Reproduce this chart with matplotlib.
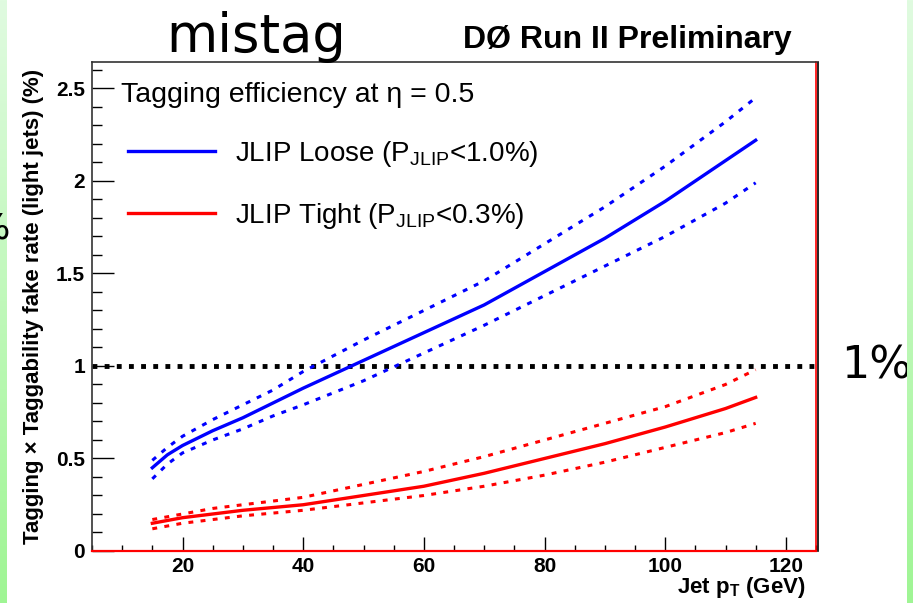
import numpy as np
import matplotlib
matplotlib.use("Agg")
import matplotlib.pyplot as plt
from matplotlib.colors import LinearSegmentedColormap
from matplotlib.ticker import MultipleLocator, FuncFormatter

plt.rcParams["font.family"] = ["Liberation Sans", "DejaVu Sans"]
plt.rcParams["mathtext.fontset"] = "custom"
plt.rcParams["mathtext.rm"] = "Liberation Sans"
plt.rcParams["mathtext.bf"] = "Liberation Sans:bold"

# jet pT (GeV) and fake rate (%) for the two JLIP operating points
pt = [15, 17.5, 20, 25, 30, 35, 40, 50, 60, 70, 80, 90, 100, 110, 115]
loose = [0.45, 0.52, 0.57, 0.65, 0.72, 0.80, 0.88, 1.03, 1.18, 1.33, 1.51, 1.69, 1.89, 2.11, 2.22]
loose_hi = [0.49, 0.56, 0.62, 0.71, 0.79, 0.87, 0.97, 1.14, 1.30, 1.46, 1.66, 1.86, 2.08, 2.32, 2.45]
loose_lo = [0.39, 0.47, 0.53, 0.60, 0.66, 0.73, 0.79, 0.92, 1.07, 1.22, 1.38, 1.54, 1.70, 1.88, 1.99]
tight = [0.15, 0.165, 0.18, 0.20, 0.22, 0.235, 0.25, 0.30, 0.35, 0.42, 0.50, 0.58, 0.67, 0.77, 0.83]
tight_hi = [0.17, 0.185, 0.20, 0.23, 0.25, 0.27, 0.29, 0.36, 0.43, 0.51, 0.60, 0.69, 0.78, 0.90, 0.98]
tight_lo = [0.12, 0.135, 0.15, 0.17, 0.19, 0.205, 0.22, 0.26, 0.30, 0.35, 0.41, 0.48, 0.56, 0.64, 0.69]
ref_level = 1.0

fig = plt.figure(figsize=(9.13, 6.03), dpi=100)
ax = fig.add_axes([92 / 913, 1 - 551 / 603, 724 / 913, 489 / 603])

dots = (0, (1.6, 2.4))
ax.plot(pt, loose_hi, color="#0000ff", lw=2.2, ls=dots)
ax.plot(pt, loose_lo, color="#0000ff", lw=2.2, ls=dots)
l1, = ax.plot(pt, loose, color="#0000ff", lw=2.4, label=r"JLIP Loose (P$_{\mathrm{JLIP}}$<1.0%)")
ax.plot(pt, tight_hi, color="#ff0000", lw=2.2, ls=dots)
ax.plot(pt, tight_lo, color="#ff0000", lw=2.2, ls=dots)
l2, = ax.plot(pt, tight, color="#ff0000", lw=2.4, label=r"JLIP Tight (P$_{\mathrm{JLIP}}$<0.3%)")

ax.axhline(ref_level, color="black", lw=3.5, ls=(0, (1, 1.5)), zorder=1)

ax.set_xlim(5, 125)
ax.set_ylim(0, 2.643)
ax.xaxis.set_major_locator(MultipleLocator(20))
ax.xaxis.set_minor_locator(MultipleLocator(5))
ax.yaxis.set_major_locator(MultipleLocator(0.5))
ax.yaxis.set_minor_locator(MultipleLocator(0.1))
ax.yaxis.set_major_formatter(FuncFormatter(lambda v, _: f"{v:g}"))
ax.tick_params(axis="x", which="major", direction="in", length=10, width=1, pad=4)
ax.tick_params(axis="x", which="minor", direction="in", length=4.5, width=1)
ax.tick_params(axis="y", which="major", direction="in", length=16, width=1, pad=5)
ax.tick_params(axis="y", which="minor", direction="in", length=7, width=1)
for lab in ax.get_xticklabels() + ax.get_yticklabels():
    lab.set_fontweight("bold")
    lab.set_fontsize(15)
ax.get_xticklabels()[0].set_visible(False)

for side in ("left", "top"):
    ax.spines[side].set_color("#333333")
    ax.spines[side].set_linewidth(1.2)
ax.spines["bottom"].set_color("#ff0000")
ax.spines["bottom"].set_linewidth(1.6)
ax.spines["right"].set_color("#ff0000")
ax.spines["right"].set_linewidth(1.2)
ax.plot([1.003, 1.003], [0, 1], transform=ax.transAxes, color="black", lw=1.2, clip_on=False)

ax.set_ylabel("Tagging \u00d7 Taggability fake rate (light jets) (%)", fontsize=16, fontweight="bold")
ax.yaxis.set_label_coords(-0.066, 0.5)
ax.set_xlabel(r"Jet p$_{\mathbf{T}}$ (GeV)", fontsize=16, fontweight="bold")
ax.xaxis.label.set_ha("right")
ax.xaxis.set_label_coords(0.985, -0.05)

ax.text(0.04, 0.9325, "Tagging efficiency at \u03b7 = 0.5", transform=ax.transAxes,
        fontsize=20.5, va="center", ha="left")
ax.legend(handles=[l1, l2], loc="upper left", bbox_to_anchor=(0.035, 0.866), frameon=False,
          fontsize=20, handlelength=3.1, handletextpad=0.72, labelspacing=1.16, borderaxespad=0)

fig.text(0.507, 0.934, "D\u00d8 Run II Preliminary", fontsize=23, fontweight="bold", ha="left", va="center")
fig.text(0.28, 0.913, "mistag", fontsize=38, ha="center", va="baseline", family="DejaVu Sans")
ax.text(1.083, ref_level, "1%", transform=ax.get_yaxis_transform(), fontsize=32, ha="center", va="center",
        family="DejaVu Sans")
fig.text(0.011, 1 - 228 / 603, "%", fontsize=26, ha="right", va="center", family="DejaVu Sans")

# green side strips
green = LinearSegmentedColormap.from_list("g", ["#e0fbe0", "#9ff594"])
grad = np.linspace(0, 1, 256).reshape(-1, 1)
for x0 in (0, 907 / 913):
    sa = fig.add_axes([x0, 0, 6 / 913, 1])
    sa.imshow(grad, aspect="auto", cmap=green, origin="upper")
    sa.set_axis_off()

fig.savefig("out.png", dpi=100)
